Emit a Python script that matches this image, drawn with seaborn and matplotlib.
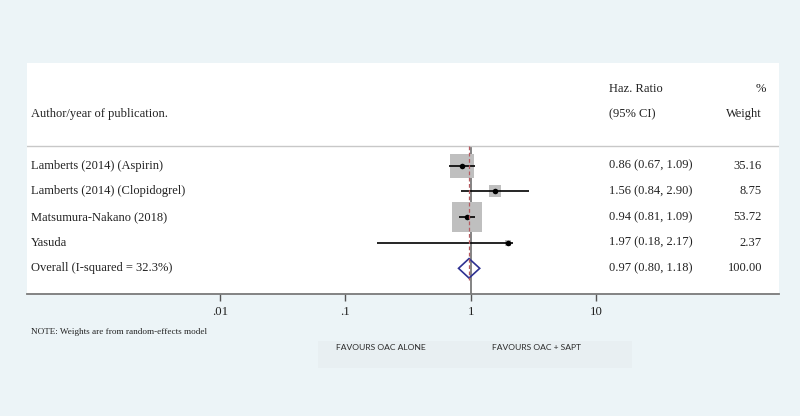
import numpy as np
import pandas as pd
import matplotlib
matplotlib.use("Agg")
import matplotlib.pyplot as plt
import seaborn as sns
from matplotlib.transforms import blended_transform_factory
from matplotlib.patches import Rectangle, Polygon

# ---------------- data ----------------
studies = ["Lamberts (2014) (Aspirin)", "Lamberts (2014) (Clopidogrel)",
           "Matsumura-Nakano (2018)", "Yasuda"]
hr = [0.86, 1.56, 0.94, 1.97]
ci_low = [0.67, 0.84, 0.81, 0.18]
ci_high = [1.09, 2.90, 1.09, 2.17]
weights = [35.16, 8.75, 53.72, 2.37]
overall_label = "Overall (I-squared = 32.3%)"
overall_hr = 0.97
overall_low = 0.80
overall_high = 1.18
overall_weight = 100.00
xticks = [0.01, 0.1, 1, 10]
xtick_labels = [".01", ".1", "1", "10"]
left_label = "FAVOURS OAC ALONE"
right_label = "FAVOURS OAC + SAPT"
note = "NOTE: Weights are from random-effects model"

W, H = 800, 416
bg = "#ecf4f7"
serif = ["Liberation Serif", "DejaVu Serif"]

fig = plt.figure(figsize=(W / 100, H / 100), dpi=100, facecolor=bg)

def fx(px):
    return px / W

def fy(py):
    return 1 - py / H

# white panel axes (pixels 27..779 x 63..294)
ax = fig.add_axes([fx(27), fy(294), (779 - 27) / W, (294 - 63) / H])
ax.set_facecolor("white")
ax.set_xscale("log")
ax.set_xlim(10 ** ((27 - 470.7) / 125.5), 10 ** ((779 - 470.7) / 125.5))
ax.set_ylim(5.0, -4.0)

df = pd.DataFrame({"study": studies, "hr": hr, "lo": ci_low, "hi": ci_high,
                   "w": weights})
df["row"] = np.arange(len(df))

# weight boxes (area proportional to weight)
sns.scatterplot(data=df, x="hr", y="row", size="w",
                sizes=(8.5 * min(weights), 8.5 * max(weights)),
                size_norm=(min(weights), max(weights)),
                marker="s", color="#bfbfbf", linewidth=0, legend=False,
                ax=ax, zorder=2)

# CI lines
ax.hlines(df["row"], df["lo"], df["hi"], color="black", lw=1.2, zorder=3)

# point estimates
sns.scatterplot(data=df, x="hr", y="row", marker="o", s=16, color="black",
                linewidth=0, legend=False, ax=ax, zorder=4)

# overall diamond
orow = len(df)
diamond = Polygon([[overall_low, orow], [overall_hr, orow - 0.38],
                   [overall_high, orow], [overall_hr, orow + 0.38]],
                  closed=True, facecolor="none", edgecolor="#2e3192", lw=1.2,
                  zorder=5)
ax.add_patch(diamond)

sep = -0.77
# no-effect line and overall dashed line
ax.vlines(1, sep, 5.0, color="#6e6e6e", lw=1.2, zorder=1)
ax.vlines(overall_hr, sep, 4.45, color="#b55a60", lw=0.9,
          linestyles=(0, (3, 2)), zorder=6)

# header separator
ax.axhline(sep, color="#c8c8c8", lw=1.0, zorder=1)

# axes styling
for s in ["top", "left", "right"]:
    ax.spines[s].set_visible(False)
ax.spines["bottom"].set_color("#7a7a7a")
ax.spines["bottom"].set_linewidth(1.3)
ax.set_yticks([])
ax.set_xticks(xticks)
ax.set_xticklabels(xtick_labels, fontfamily=serif, fontsize=9.2)
ax.minorticks_off()
ax.tick_params(axis="x", direction="out", length=5, width=1.0,
               color="#555555", pad=3.5, labelcolor="#222222")
ax.set_xlabel("")
ax.set_ylabel("")

# text columns
tr = blended_transform_factory(ax.transAxes, ax.transData)
def axx(px):
    return (px - 27) / (779 - 27)

fs = 9.0
tcol = "#222222"
ax.text(axx(31), -2.0, "Author/year of publication.", transform=tr,
        fontfamily=serif, fontsize=fs, va="center", ha="left", color=tcol)
ax.text(axx(609), -2.98, "Haz. Ratio", transform=tr, fontfamily=serif,
        fontsize=fs, va="center", ha="left", color=tcol)
ax.text(axx(609), -2.0, "(95% CI)", transform=tr, fontfamily=serif,
        fontsize=fs, va="center", ha="left", color=tcol)
ax.text(axx(766), -2.98, "%", transform=tr, fontfamily=serif,
        fontsize=fs, va="center", ha="right", color=tcol)
ax.text(axx(762), -2.0, "Weight", transform=tr, fontfamily=serif,
        fontsize=fs, va="center", ha="right", color=tcol)

for i in range(len(df)):
    ax.text(axx(31), i, studies[i], transform=tr, fontfamily=serif,
            fontsize=fs, va="center", ha="left", color=tcol)
    ax.text(axx(609), i, f"{hr[i]:.2f} ({ci_low[i]:.2f}, {ci_high[i]:.2f})",
            transform=tr, fontfamily=serif, fontsize=fs, va="center",
            ha="left", color=tcol)
    ax.text(axx(762), i, f"{weights[i]:.2f}", transform=tr, fontfamily=serif,
            fontsize=fs, va="center", ha="right", color=tcol)

ax.text(axx(31), orow, overall_label, transform=tr, fontfamily=serif,
        fontsize=fs, va="center", ha="left", color=tcol)
ax.text(axx(609), orow,
        f"{overall_hr:.2f} ({overall_low:.2f}, {overall_high:.2f})",
        transform=tr, fontfamily=serif, fontsize=fs, va="center", ha="left",
        color=tcol)
ax.text(axx(762), orow, f"{overall_weight:.2f}", transform=tr,
        fontfamily=serif, fontsize=fs, va="center", ha="right", color=tcol)

# note
fig.text(fx(31), fy(331.5), note, fontfamily=serif, fontsize=6.6,
         va="center", ha="left", color=tcol)

# favours box
fig.patches.append(Rectangle((fx(318), fy(368)), (632 - 318) / W,
                             (368 - 341) / H, transform=fig.transFigure,
                             facecolor="#e8eff2", edgecolor="none", zorder=0))
sans = ["Lato", "DejaVu Sans"]
fig.text(fx(336), fy(347), left_label, fontfamily=sans, fontsize=6.1,
         va="center", ha="left", color="#2a2a2a")
fig.text(fx(492), fy(347), right_label, fontfamily=sans, fontsize=6.1,
         va="center", ha="left", color="#2a2a2a")

fig.savefig("out.png", dpi=100, facecolor=bg)
